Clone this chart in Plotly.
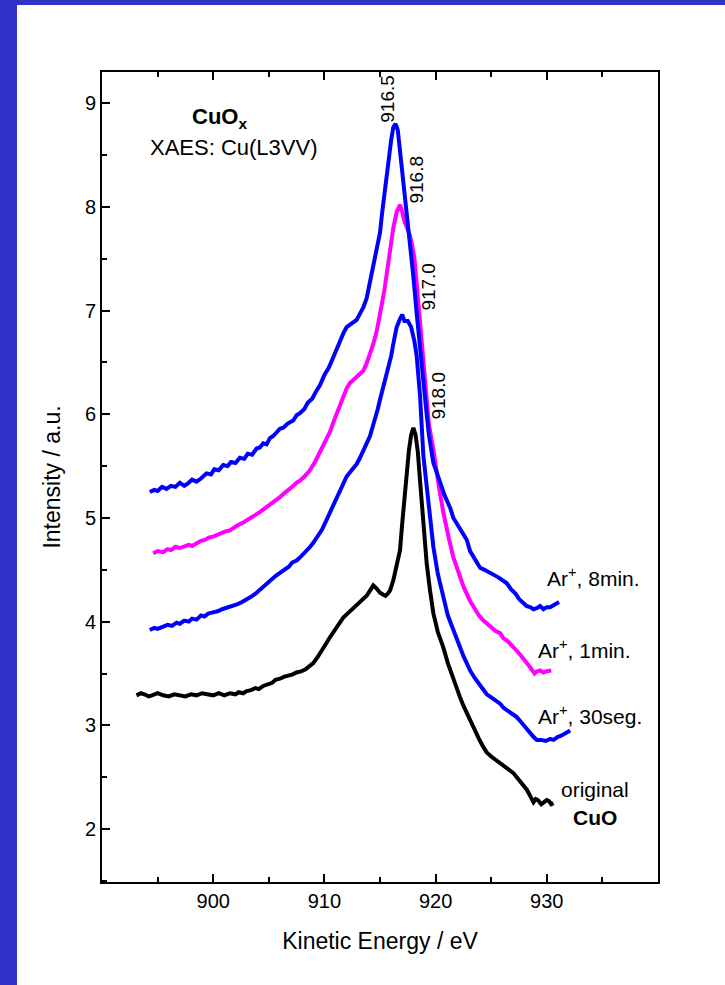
import plotly.graph_objects as go

# ---------------- data ----------------
e_8min = [894.3, 894.7, 895.0, 895.4, 895.8, 896.2, 896.6, 897.0, 897.4, 897.7, 898.1, 898.5,
          898.9, 899.4, 899.8, 900.1, 900.5, 900.9, 901.3, 901.6, 902.0, 902.4, 902.8, 903.1,
          903.5, 903.9, 904.2, 904.5, 904.8, 905.1, 905.4, 905.7, 906.0, 906.3, 906.7, 907.2,
          907.5, 907.8, 908.2, 908.5, 908.9, 909.3, 909.6, 910.0, 910.4, 910.8, 911.1, 911.4,
          911.7, 912.0, 912.5, 912.9, 913.2, 913.5, 913.8, 914.0, 914.2, 914.4, 914.7, 915.0,
          915.2, 915.5, 915.8, 916.0, 916.2, 916.4, 916.6, 916.8, 917.1, 917.4, 917.7, 918.0,
          918.3, 918.6, 918.9, 919.2, 919.4, 919.8, 920.1, 920.4, 920.8, 921.3, 921.6, 922.0,
          922.4, 922.8, 923.1, 923.4, 923.7, 924.0, 924.4, 924.9, 925.2, 925.6, 926.0, 926.4,
          926.8, 927.2, 927.5, 927.9, 928.2, 928.5, 928.8, 929.1, 929.4, 929.7, 930.0, 930.3,
          930.7, 931.1]
i_8min = [5.25, 5.27, 5.26, 5.30, 5.28, 5.31, 5.30, 5.34, 5.31, 5.33, 5.37, 5.35,
          5.38, 5.43, 5.42, 5.47, 5.46, 5.51, 5.50, 5.54, 5.53, 5.58, 5.57, 5.62,
          5.61, 5.67, 5.68, 5.72, 5.71, 5.77, 5.79, 5.82, 5.86, 5.87, 5.91, 5.94,
          5.99, 6.01, 6.05, 6.11, 6.15, 6.23, 6.28, 6.38, 6.45, 6.55, 6.63, 6.70,
          6.78, 6.84, 6.88, 6.91, 6.97, 7.03, 7.12, 7.22, 7.32, 7.42, 7.58, 7.75,
          7.95, 8.23, 8.46, 8.64, 8.77, 8.80, 8.74, 8.55, 8.23, 7.95, 7.68, 7.33,
          6.97, 6.62, 6.30, 6.00, 5.80, 5.53, 5.44, 5.35, 5.22, 5.10, 5.00, 4.93,
          4.85, 4.79, 4.68, 4.62, 4.56, 4.52, 4.50, 4.47, 4.46, 4.43, 4.40, 4.37,
          4.31, 4.27, 4.22, 4.18, 4.15, 4.14, 4.12, 4.13, 4.15, 4.12, 4.14, 4.14,
          4.16, 4.19]

e_1min = [894.6, 895.0, 895.5, 895.9, 896.2, 896.6, 897.0, 897.4, 897.8, 898.1, 898.5, 898.9,
          899.3, 899.6, 900.0, 900.4, 900.8, 901.1, 901.5, 901.9, 902.2, 902.6, 903.0, 903.4,
          903.8, 904.1, 904.5, 904.9, 905.2, 905.6, 906.0, 906.4, 906.8, 907.1, 907.5, 907.8,
          908.2, 908.7, 909.2, 909.6, 910.1, 910.5, 910.8, 911.1, 911.4, 911.7, 912.0, 912.3,
          912.6, 912.9, 913.2, 913.5, 913.8, 914.1, 914.4, 914.7, 915.0, 915.2, 915.4, 915.6,
          915.9, 916.2, 916.5, 916.8, 917.0, 917.2, 917.5, 917.7, 917.9, 918.1, 918.3, 918.5,
          918.8, 919.0, 919.2, 919.4, 919.8, 920.0, 920.3, 920.7, 920.9, 921.2, 921.6, 921.9,
          922.2, 922.5, 922.8, 923.1, 923.5, 923.9, 924.3, 924.6, 925.0, 925.4, 925.8, 926.1,
          926.5, 926.9, 927.3, 927.7, 928.1, 928.5, 928.9, 929.1, 929.4, 929.7, 929.9, 930.4]
i_1min = [4.66, 4.68, 4.67, 4.70, 4.69, 4.72, 4.71, 4.73, 4.74, 4.73, 4.76, 4.78,
          4.79, 4.81, 4.82, 4.84, 4.85, 4.87, 4.88, 4.91, 4.93, 4.95, 4.98, 5.01,
          5.03, 5.05, 5.08, 5.11, 5.14, 5.16, 5.20, 5.24, 5.27, 5.30, 5.34, 5.36,
          5.40, 5.46, 5.55, 5.63, 5.74, 5.83, 5.92, 6.00, 6.09, 6.17, 6.25, 6.30,
          6.33, 6.36, 6.38, 6.42, 6.49, 6.58, 6.68, 6.80, 6.95, 7.08, 7.20, 7.36,
          7.58, 7.80, 7.95, 8.02, 7.95, 7.86, 7.78, 7.72, 7.62, 7.50, 7.26, 7.00,
          6.62, 6.36, 6.12, 5.90, 5.66, 5.50, 5.30, 5.05, 4.93, 4.80, 4.62, 4.52,
          4.42, 4.34, 4.27, 4.20, 4.13, 4.06, 4.01, 3.98, 3.95, 3.91, 3.89, 3.84,
          3.81, 3.77, 3.72, 3.67, 3.62, 3.56, 3.50, 3.52, 3.53, 3.51, 3.52, 3.53]

e_30s = [894.3, 894.7, 895.0, 895.5, 895.9, 896.3, 896.7, 897.0, 897.4, 897.8, 898.1, 898.5,
         898.9, 899.2, 899.6, 900.0, 900.4, 900.8, 901.1, 901.5, 901.9, 902.2, 902.6, 903.0,
         903.4, 903.8, 904.1, 904.5, 904.9, 905.2, 905.6, 906.0, 906.4, 906.8, 907.1, 907.5,
         907.9, 908.3, 908.7, 909.0, 909.4, 909.8, 910.1, 910.5, 910.8, 911.1, 911.4, 911.7,
         912.0, 912.3, 912.6, 912.9, 913.2, 913.5, 913.8, 914.1, 914.3, 914.5, 914.8, 915.0,
         915.2, 915.4, 915.6, 915.8, 916.0, 916.2, 916.5, 916.8, 917.0, 917.2, 917.5, 917.8,
         918.1, 918.3, 918.6, 918.9, 919.2, 919.5, 919.8, 920.2, 920.7, 921.1, 921.6, 921.9,
         922.2, 922.5, 922.8, 923.1, 923.5, 923.9, 924.3, 924.6, 925.0, 925.4, 925.8, 926.1,
         926.5, 926.9, 927.3, 927.7, 928.1, 928.4, 928.8, 929.1, 929.5, 929.9, 930.3, 930.6,
         931.0, 931.3, 931.6, 931.9, 932.1]
i_30s = [3.92, 3.94, 3.93, 3.95, 3.97, 3.96, 3.99, 3.98, 4.01, 4.00, 4.03, 4.02,
         4.06, 4.05, 4.08, 4.09, 4.10, 4.12, 4.13, 4.14, 4.16, 4.17, 4.19, 4.21,
         4.24, 4.27, 4.30, 4.33, 4.37, 4.40, 4.44, 4.47, 4.50, 4.53, 4.57, 4.59,
         4.63, 4.67, 4.72, 4.76, 4.82, 4.89, 4.96, 5.05, 5.12, 5.20, 5.27, 5.34,
         5.40, 5.44, 5.48, 5.52, 5.58, 5.66, 5.72, 5.79, 5.86, 5.95, 6.05, 6.14,
         6.22, 6.30, 6.37, 6.45, 6.56, 6.68, 6.84, 6.92, 6.96, 6.90, 6.90, 6.84,
         6.70, 6.56, 6.18, 5.60, 5.30, 4.98, 4.72, 4.46, 4.24, 4.06, 3.92, 3.83,
         3.75, 3.67, 3.60, 3.53, 3.46, 3.40, 3.34, 3.30, 3.27, 3.24, 3.21, 3.17,
         3.14, 3.11, 3.08, 3.03, 2.98, 2.93, 2.89, 2.86, 2.86, 2.85, 2.87, 2.86,
         2.89, 2.90, 2.92, 2.93, 2.95]

e_orig = [893.1, 893.5, 893.8, 894.2, 894.5, 895.0, 895.5, 896.0, 896.5, 897.0, 897.5, 898.0,
          898.5, 899.0, 899.5, 900.0, 900.5, 901.0, 901.5, 902.0, 902.3, 902.7, 903.0, 903.4,
          903.8, 904.1, 904.5, 904.9, 905.3, 905.6, 906.0, 906.4, 906.8, 907.1, 907.5, 907.9,
          908.3, 908.7, 909.0, 909.4, 909.8, 910.1, 910.5, 910.8, 911.1, 911.4, 911.7, 912.1,
          912.5, 912.9, 913.2, 913.5, 913.8, 914.1, 914.4, 914.7, 915.0, 915.3, 915.5, 915.7,
          915.9, 916.2, 916.4, 916.6, 916.8, 917.0, 917.2, 917.4, 917.6, 917.8, 918.0, 918.2,
          918.4, 918.6, 918.9, 919.2, 919.5, 919.8, 920.2, 920.7, 921.1, 921.6, 921.9, 922.2,
          922.5, 922.8, 923.1, 923.5, 923.9, 924.3, 924.6, 925.0, 925.4, 925.8, 926.1, 926.4,
          926.7, 927.0, 927.3, 927.6, 927.9, 928.2, 928.5, 928.8, 929.0, 929.2, 929.5, 929.7,
          930.0, 930.2, 930.4, 930.6]
i_orig = [3.29, 3.31, 3.30, 3.28, 3.29, 3.31, 3.29, 3.28, 3.30, 3.29, 3.28, 3.30,
          3.29, 3.31, 3.30, 3.29, 3.31, 3.29, 3.31, 3.30, 3.32, 3.31, 3.33, 3.34,
          3.36, 3.35, 3.38, 3.40, 3.41, 3.44, 3.45, 3.47, 3.48, 3.49, 3.51, 3.52,
          3.54, 3.57, 3.60, 3.66, 3.72, 3.78, 3.85, 3.90, 3.95, 4.00, 4.04, 4.08,
          4.12, 4.15, 4.18, 4.21, 4.25, 4.30, 4.35, 4.32, 4.28, 4.26, 4.25, 4.27,
          4.30, 4.40, 4.50, 4.60, 4.69, 4.95, 5.22, 5.45, 5.65, 5.80, 5.87, 5.80,
          5.64, 5.36, 4.95, 4.56, 4.30, 4.08, 3.90, 3.75, 3.60, 3.44, 3.35, 3.27,
          3.19, 3.12, 3.04, 2.96, 2.87, 2.79, 2.74, 2.70, 2.67, 2.64, 2.61, 2.59,
          2.57, 2.54, 2.50, 2.46, 2.42, 2.38, 2.32, 2.26, 2.29, 2.28, 2.24, 2.26,
          2.28, 2.27, 2.24, 2.25]

peak_labels = ["916.5", "916.8", "917.0", "918.0"]
peak_label_e = [915.7, 918.3, 919.4, 920.3]
peak_label_i = [9.04, 8.26, 7.23, 6.18]

series_labels = ["Ar<sup>+</sup>, 8min.", "Ar<sup>+</sup>, 1min.", "Ar<sup>+</sup>, 30seg.", "original"]
series_label_e = [929.8, 929.0, 929.0, 931.1]
series_label_i = [4.43, 3.74, 3.10, 2.38]

x_ticks = [900, 910, 920, 930]
y_ticks = [2, 3, 4, 5, 6, 7, 8, 9]

# ---------------- figure ----------------
W, H = 725, 985
ML, MR, MT, MB = 102, 67, 72, 103
PW, PH = W - ML - MR, H - MT - MB
FONT = "Liberation Sans, Arial, sans-serif"

fig = go.Figure()
for e, i, col in [(e_orig, i_orig, "#000000"), (e_30s, i_30s, "#0000FF"),
                  (e_1min, i_1min, "#FF00FF"), (e_8min, i_8min, "#0000FF")]:
    fig.add_trace(go.Scatter(x=e, y=i, mode="lines", line=dict(color=col, width=4),
                             showlegend=False, hoverinfo="skip"))

ann = []
ann.append(dict(x=900.6, y=8.86, text="<b>CuO<sub>x</sub></b>", showarrow=False,
                font=dict(size=22, color="black", family=FONT)))
ann.append(dict(x=901.9, y=8.57, text="XAES: Cu(L3VV)", showarrow=False,
                font=dict(size=22, color="black", family=FONT)))
for t, e, i in zip(peak_labels, peak_label_e, peak_label_i):
    ann.append(dict(x=e, y=i, text=t, showarrow=False, textangle=-90,
                    font=dict(size=19, color="black", family=FONT)))
for t, e, i in zip(series_labels, series_label_e, series_label_i):
    ann.append(dict(x=e, y=i, text=t, showarrow=False, xanchor="left",
                    font=dict(size=21, color="black", family=FONT)))
ann.append(dict(x=932.2, y=2.11, text="<b>CuO</b>", showarrow=False, xanchor="left",
                font=dict(size=21, color="black", family=FONT)))

# blue page border (left and top bands), placed in paper coordinates
def px_x(p):
    return (p - ML) / PW

def px_y(p):
    return 1 - (p - MT) / PH

shapes = [
    dict(type="rect", xref="paper", yref="paper", x0=px_x(0), x1=px_x(17), y0=px_y(H), y1=px_y(0),
         fillcolor="#3232C8", line=dict(width=0), layer="below"),
    dict(type="rect", xref="paper", yref="paper", x0=px_x(0), x1=px_x(W), y0=px_y(5), y1=px_y(0),
         fillcolor="#3232C8", line=dict(width=0), layer="below"),
]

fig.update_layout(
    width=W, height=H,
    margin=dict(l=ML, r=MR, t=MT, b=MB),
    paper_bgcolor="white", plot_bgcolor="white",
    font=dict(family=FONT, color="black"),
    annotations=ann, shapes=shapes,
    xaxis=dict(range=[890, 940], tickvals=x_ticks, ticks="inside", ticklen=8, tickwidth=1.5,
               tickcolor="black", showline=True, linecolor="black", linewidth=2, mirror="ticks",
               showgrid=False, zeroline=False, tickfont=dict(size=20),
               minor=dict(dtick=5, tick0=0, ticks="inside", ticklen=5, tickcolor="black", tickwidth=1.5),
               title=dict(text="Kinetic Energy / eV", font=dict(size=23), standoff=22)),
    yaxis=dict(range=[1.49, 9.30], tickvals=y_ticks, ticks="inside", ticklen=8, tickwidth=1.5,
               tickcolor="black", showline=True, linecolor="black", linewidth=2, mirror=True,
               showgrid=False, zeroline=False, tickfont=dict(size=20),
               minor=dict(dtick=0.5, tick0=0, ticks="inside", ticklen=5, tickcolor="black", tickwidth=1.5),
               title=dict(text="Intensity / a.u.", font=dict(size=23), standoff=18)),
)

fig.write_html("out.html")
